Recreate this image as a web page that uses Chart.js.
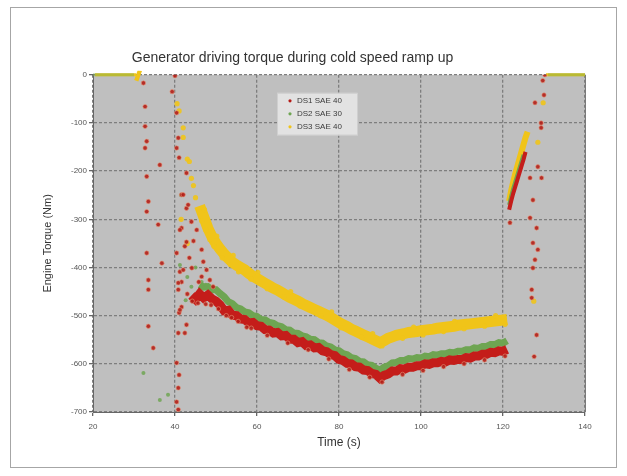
<!DOCTYPE html>
<html>
<head>
<meta charset="utf-8">
<script src="https://cdn.jsdelivr.net/npm/chart.js@4.4.1/dist/chart.umd.min.js"></script>
<style>
  body { margin: 0; background: #fff; }
  #wrap { width: 627px; height: 476px; }
</style>
</head>
<body>
<div id="wrap"><canvas id="torque-chart" width="627" height="476"></canvas></div>
<script>
var seriesNames = ["DS1 SAE 40", "DS2 SAE 30", "DS3 SAE 40"];
var xTicks = [20, 40, 60, 80, 100, 120, 140];
var yTicks = [0, -100, -200, -300, -400, -500, -600, -700];

// DS1 (red) - continuous trace: main band, gap, ramp back up
var ds1LineTime = [
    44, 45, 46, 47, 48, 49, 50, 51, 52, 53, 54, 55, 56, 57, 58, 59, 60, 61, 62, 63, 64, 65, 66, 67, 68, 69, 70,
    71, 72, 73, 74, 75, 76, 77, 78, 79, 80, 81, 82, 83, 84, 85, 86, 87, 88, 89, 90, 91, 92, 93, 94, 95, 96,
    97, 98, 99, 100, 101, 102, 103, 104, 105, 106, 107, 108, 109, 110, 111, 112, 113, 114, 115, 116, 117, 118, 119, 120, 121,
    121.2,
    121.5, 122, 122.5, 123, 123.5, 124, 124.5, 125, 125.5
];
var ds1LineTorque = [
    -458, -466, -455, -463, -457, -465, -470, -478, -490, -489, -499, -500, -507, -508, -515, -514, -521, -522, -529, -530, -536, -535, -542, -541, -549, -549, -556,
    -554, -562, -561, -567, -566, -573, -575, -581, -583, -591, -593, -599, -600, -606, -607, -613, -614, -620, -622, -630, -624, -621, -615, -615, -610, -611,
    -607, -607, -604, -604, -600, -601, -598, -598, -595, -596, -592, -593, -591, -591, -587, -588, -584, -584, -580, -580, -576, -577, -573, -574, -570,
    null,
    -280, -262, -246, -232, -218, -204, -190, -176, -160
];
// DS1 scattered samples
var ds1DotTime = [
    32.3, 32.7, 32.7, 33.1, 32.7, 36.3, 33.1, 33.5, 33.1, 35.9, 33.1, 36.8, 33.5, 33.5, 33.5, 34.7,
    40.0, 39.3, 40.4, 40.8, 40.4, 41.0, 42.8, 41.6, 42.8, 44.0, 41.6, 42.8, 40.4, 41.2, 41.6, 40.8, 41.6, 41.0, 42.8, 40.8, 40.4, 41.0, 40.8, 40.4, 40.8,
    42.0, 43.2, 41.2, 42.4, 45.3, 46.5, 46.9, 47.7, 44.1, 42.0, 40.8, 46.5, 48.5, 49.3, 41.2, 42.4, 43.5, 44.5, 45.8, 44.2, 43.0,
    47.5, 52.5, 57.5, 62.5, 67.5, 72.5, 77.5, 82.5, 87.5, 90.5, 95.5, 100.5, 105.5, 110.5, 115.5, 120.5,
    45.6, 48.8, 50.6, 53.8, 55.4, 58.6,
    130.2, 129.7, 130, 127.8, 129.3, 129.3, 128.5, 126.6, 129.4, 127.3, 126.6, 128.2, 127.3, 128.5, 127.8, 127.3, 127, 127, 121.7, 128.2, 127.6
];
var ds1DotTorque = [
    -17, -66, -107, -138, -152, -187, -211, -263, -284, -311, -370, -391, -426, -446, -522, -567,
    -2, -35, -79, -131, -152, -172, -204, -249, -277, -305, -318, -347, -370, -409, -430, -446, -482, -494, -519, -536, -598, -623, -650, -679, -695,
    -249, -270, -322, -356, -322, -363, -388, -405, -401, -405, -432, -419, -426, -440, -488, -536, -380, -345, -430, -470, -455,
    -476, -500, -524, -541, -557, -571, -590, -612, -628, -638, -622, -614, -606, -600, -592, -584,
    -474, -478, -486, -504, -512, -526,
    0, -12, -42, -58, -100, -110, -191, -214, -214, -260, -297, -318, -349, -363, -384, -401, -446, -463, -307, -540, -585
];

// DS2 (green)
var ds2LineTime = [
    20, 21, 22, 23, 24, 25, 26, 27, 28, 29, 30,
    31,
    46, 47, 48, 49, 50, 51, 52, 53, 54, 55, 56, 57, 58, 59, 60, 61, 62, 63, 64, 65, 66, 67, 68, 69, 70,
    71, 72, 73, 74, 75, 76, 77, 78, 79, 80, 81, 82, 83, 84, 85, 86, 87, 88, 89, 90, 91, 92, 93, 94, 95, 96,
    97, 98, 99, 100, 101, 102, 103, 104, 105, 106, 107, 108, 109, 110, 111, 112, 113, 114, 115, 116, 117, 118, 119, 120, 121,
    121.2,
    121.5, 122, 122.5, 123, 123.5, 124, 124.5, 125,
    128,
    131, 132, 133, 134, 135, 136, 137, 138, 139, 140
];
var ds2LineTorque = [
    0, 0, 0, 0, 0, 0, 0, 0, 0, 0, 0,
    null,
    -436, -441, -440, -446, -446, -454, -461, -471, -475, -483, -486, -492, -494, -500, -502, -508, -509, -514, -516, -521, -523, -529, -530, -536, -537,
    -542, -544, -549, -550, -556, -557, -563, -565, -571, -573, -579, -581, -587, -589, -595, -596, -602, -603, -609, -613, -607, -604, -598, -597, -593, -593,
    -589, -590, -587, -588, -584, -585, -581, -582, -579, -579, -576, -577, -574, -574, -571, -571, -567, -568, -564, -564, -560, -560, -556, -557, -552,
    null,
    -270, -252, -236, -222, -208, -194, -180, -166,
    null,
    0, 0, 0, 0, 0, 0, 0, 0, 0, 0
];
var ds2DotTime = [32.3, 38.3, 36.3, 41.5, 43, 45, 46.5, 44, 47.5, 41.2, 42.6];
var ds2DotTorque = [-619, -664, -675, -250, -420, -400, -430, -440, -436, -395, -468];

// DS3 (yellow)
var ds3LineTime = [
    20.5, 21.5, 22.5, 23.5, 24.5, 25.5, 26.5, 27.5, 28.5, 29.5, 30.5, 31.5,
    35,
    46, 47, 48, 49, 50, 51, 52, 53, 54, 55, 56, 57, 58, 59, 60, 61, 62, 63, 64, 65, 66, 67, 68, 69, 70,
    71, 72, 73, 74, 75, 76, 77, 78, 79, 80, 81, 82, 83, 84, 85, 86, 87, 88, 89, 90, 91, 92, 93, 94, 95, 96,
    97, 98, 99, 100, 101, 102, 103, 104, 105, 106, 107, 108, 109, 110, 111, 112, 113, 114, 115, 116, 117, 118, 119, 120, 121,
    121.2,
    121.5, 122, 122.5, 123, 123.5, 124, 124.5, 125, 125.5, 126,
    128,
    130.5, 131.5, 132.5, 133.5, 134.5, 135.5, 136.5, 137.5, 138.5, 139.5, 140
];
var ds3LineTorque = [
    0, 0, 0, 0, 0, 0, 0, 0, 0, 0, 0, -3,
    null,
    -272, -295, -318, -336, -350, -362, -372, -381, -389, -395, -400, -405, -412, -418, -423, -428, -433, -438, -443, -447, -452, -457, -462, -466, -470,
    -475, -479, -483, -487, -491, -495, -499, -504, -509, -514, -519, -523, -528, -532, -536, -540, -544, -548, -552, -556, -552, -547, -544, -541, -539, -537,
    -535, -534, -533, -531, -530, -529, -528, -526, -525, -524, -523, -522, -520, -519, -518, -517, -516, -515, -514, -513, -512, -511, -510, -509, -508,
    null,
    -262, -240, -222, -205, -190, -175, -160, -145, -130, -118,
    null,
    0, 0, 0, 0, 0, 0, 0, 0, 0, 0, 0
];
var ds3DotTime = [
    40.5, 42, 43.5, 41.5, 44.5, 43, 129.8, 128.5, 127.5,
    41, 42, 43, 44, 45,
    46.5, 47.5, 48.5, 49.5, 51.5, 53.5, 55.5, 58.5, 62.5, 66.5, 70.5, 75.5, 80.5, 85.5, 90.5, 95.5, 100.5, 105.5, 110.5, 115.5, 120.5,
    47.2, 50.2, 54.2, 60.2, 68.2, 78.2, 88.2, 98.2, 108.2, 118.2
];
var ds3DotTorque = [
    -60, -110, -180, -300, -230, -350, -58, -140, -470,
    -75, -130, -175, -215, -255,
    -303, -322, -342, -356, -380, -394, -409, -424, -444, -461, -480, -500, -525, -545, -563, -547, -540, -533, -527, -522, -518,
    -280, -335, -375, -410, -450, -492, -537, -524, -512, -500
];

function toPoints(times, values) {
    return times.map(function (t, i) {
        return { x: t, y: values[i] };
    });
}

// trace widths: thin along the zero line, medium on the ramp, thick in the band
function traceWidth(band, ramp) {
    return function (seg) {
        if (seg.p0.parsed.y === 0 && seg.p1.parsed.y === 0) return 3;
        if (seg.p0.parsed.x > 121.2) return ramp;
        return band;
    };
}

var plotFrame = {
    id: "plotFrame",
    beforeDraw: function (chart) {
        var c = chart.ctx, a = chart.chartArea;
        c.save();
        c.strokeStyle = "#a6a6a6";
        c.lineWidth = 1;
        c.strokeRect(10.5, 7.5, 606, 460);
        c.fillStyle = "#bfbfbf";
        c.fillRect(a.left, a.top, a.right - a.left, a.bottom - a.top);
        c.restore();
    },
    afterDatasetsDraw: function (chart) {
        var c = chart.ctx, a = chart.chartArea;
        c.save();
        c.strokeStyle = "#7a7a7a";
        c.lineWidth = 1;
        c.beginPath();
        c.moveTo(a.right + 0.5, a.top);
        c.lineTo(a.right + 0.5, a.bottom);
        c.stroke();
        c.restore();
    }
};

// small legend box sitting inside the plot area
var legendColors = ["#b51a16", "#6ea552", "#f0c419"];
var insideLegend = {
    id: "insideLegend",
    afterDraw: function (chart) {
        var c = chart.ctx, a = chart.chartArea;
        var bx = a.left + 184, by = a.top + 18;
        c.save();
        c.fillStyle = "#e2e2e2";
        c.strokeStyle = "#cfcfcf";
        c.fillRect(bx, by, 80, 42);
        c.strokeRect(bx + 0.5, by + 0.5, 80, 42);
        c.font = "8px 'Liberation Sans', Arial, sans-serif";
        c.textBaseline = "middle";
        seriesNames.forEach(function (name, i) {
            var ly = by + 8 + i * 13;
            c.fillStyle = legendColors[i];
            c.beginPath();
            c.arc(bx + 13, ly, 1.6, 0, Math.PI * 2);
            c.fill();
            c.fillStyle = "#3a3a3a";
            c.fillText(name, bx + 20, ly);
        });
        c.restore();
    }
};

var ctx = document.getElementById("torque-chart").getContext("2d");
var chart = new Chart(ctx, {
    type: "scatter",
    data: {
        datasets: [
            {
                label: seriesNames[0],
                data: toPoints(ds1DotTime, ds1DotTorque),
                backgroundColor: "rgba(178,30,24,0.9)",
                borderColor: "rgba(230,150,120,0.6)",
                borderWidth: 1,
                pointRadius: 2.2,
                order: 0
            },
            {
                label: seriesNames[0],
                data: toPoints(ds1LineTime, ds1LineTorque),
                showLine: true,
                spanGaps: false,
                clip: 4,
                borderColor: "#c41d1a",
                backgroundColor: "#c41d1a",
                pointRadius: 0,
                segment: { borderWidth: traceWidth(9, 4) },
                order: 1
            },
            {
                label: seriesNames[1],
                data: toPoints(ds2DotTime, ds2DotTorque),
                backgroundColor: "rgba(110,165,82,0.85)",
                borderWidth: 0,
                pointRadius: 2,
                order: 2
            },
            {
                label: seriesNames[1],
                data: toPoints(ds2LineTime, ds2LineTorque),
                showLine: true,
                spanGaps: false,
                clip: 4,
                borderColor: "#6ea552",
                backgroundColor: "#6ea552",
                pointRadius: 0,
                segment: {
                    borderWidth: traceWidth(7, 4),
                    borderColor: function (seg) {
                        return seg.p0.parsed.y === 0 ? "rgba(130,175,80,0.5)" : undefined;
                    }
                },
                order: 3
            },
            {
                label: seriesNames[2],
                data: toPoints(ds3DotTime, ds3DotTorque),
                backgroundColor: "rgba(240,196,25,0.9)",
                borderWidth: 0,
                pointRadius: 2.6,
                order: 4
            },
            {
                label: seriesNames[2],
                data: toPoints(ds3LineTime, ds3LineTorque),
                showLine: true,
                spanGaps: false,
                clip: 4,
                borderColor: "#f0c419",
                backgroundColor: "#f0c419",
                pointRadius: 0,
                segment: { borderWidth: traceWidth(11, 6) },
                order: 5
            }
        ]
    },
    options: {
        responsive: false,
        animation: false,
        layout: { padding: { left: 0, right: 42, top: 0, bottom: 0 } },
        plugins: {
            legend: { display: false },
            tooltip: { enabled: false },
            title: {
                display: true,
                text: "Generator driving torque during cold speed ramp up",
                color: "#333",
                font: { family: "'Liberation Sans', Arial, sans-serif", size: 14, weight: "normal" },
                padding: { top: 50, bottom: 8 }
            }
        },
        scales: {
            x: {
                type: "linear",
                min: 20,
                max: 140,
                afterBuildTicks: function (scale) {
                    scale.ticks = xTicks.map(function (v) { return { value: v }; });
                },
                afterFit: function (scale) { scale.height = 64; },
                ticks: {
                    color: "#555",
                    font: { family: "'Liberation Sans', Arial, sans-serif", size: 8 },
                    padding: 6,
                    maxRotation: 0
                },
                grid: { color: "#7e7e7e", lineWidth: 1.3, tickLength: 4, tickColor: "#666" },
                border: { color: "#666", width: 1, dash: [3, 2] },
                title: {
                    display: true,
                    text: "Time (s)",
                    color: "#333",
                    font: { family: "'Liberation Sans', Arial, sans-serif", size: 12 },
                    padding: { top: 4, bottom: 26 }
                }
            },
            y: {
                type: "linear",
                min: -700,
                max: 0,
                afterBuildTicks: function (scale) {
                    scale.ticks = yTicks.map(function (v) { return { value: v }; });
                },
                afterFit: function (scale) { scale.width = 93; },
                ticks: {
                    color: "#555",
                    font: { family: "'Liberation Sans', Arial, sans-serif", size: 8 },
                    padding: 2
                },
                grid: { color: "#7e7e7e", lineWidth: 1.3, tickLength: 4, tickColor: "#666" },
                border: { color: "#666", width: 1, dash: [3, 2] },
                title: {
                    display: true,
                    text: "Engine Torque (Nm)",
                    color: "#333",
                    font: { family: "'Liberation Sans', Arial, sans-serif", size: 11 },
                    padding: { top: 41, bottom: 4 }
                }
            }
        }
    },
    plugins: [plotFrame, insideLegend]
});
</script>
</body>
</html>
